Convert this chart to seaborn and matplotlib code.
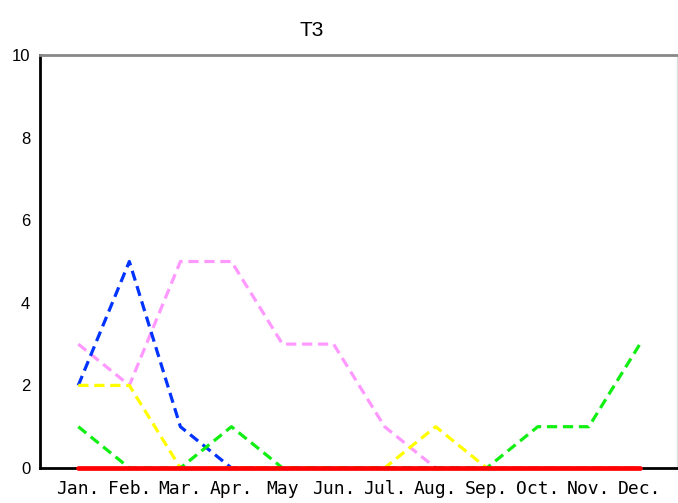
import matplotlib
matplotlib.use("Agg")
import matplotlib.pyplot as plt
import seaborn as sns

months = ['Jan.', 'Feb.', 'Mar.', 'Apr.', 'May', 'Jun.', 'Jul.', 'Aug.', 'Sep.', 'Oct.', 'Nov.', 'Dec.']
blue_vals = [2, 5, 1, 0, 0, 0, 0, 0, 0, 0, 0, 0]
pink_vals = [3, 2, 5, 5, 3, 3, 1, 0, 0, 0, 0, 0]
yellow_vals = [2, 2, 0, 0, 0, 0, 0, 1, 0, 0, 0, 0]
green_vals = [1, 0, 0, 1, 0, 0, 0, 0, 0, 1, 1, 3]
red_vals = [0, 0, 0, 0, 0, 0, 0, 0, 0, 0, 0, 0]

sns.set_style("white")

fig = plt.figure(figsize=(6.78, 5.03), dpi=100)
ax = fig.add_axes([0.059, 0.0696, 0.939, 0.821])

x = list(range(len(months)))
series = [
    (pink_vals, '#ff99ff'),
    (blue_vals, '#0033ff'),
    (yellow_vals, '#ffff00'),
    (green_vals, '#11ee11'),
]
for vals, col in series:
    sns.lineplot(x=x, y=vals, ax=ax, color=col, linewidth=2.3,
                 linestyle=(0, (3.2, 1.8)), clip_on=False)
sns.lineplot(x=x, y=red_vals, ax=ax, color='#ff0000', linewidth=3.4, clip_on=False, zorder=3)

ax.set_xlim(-0.75, 11.72)
ax.set_ylim(0, 10)
ax.set_yticks([0, 2, 4, 6, 8, 10])
ax.set_xticks(x)
ax.set_xticklabels(months, family='DejaVu Sans Mono', fontsize=13, color='black')
for lab in ax.get_yticklabels():
    lab.set_family('Liberation Sans')
    lab.set_fontsize(12)
    lab.set_color('black')
ax.tick_params(axis='y', direction='in', length=4, width=1.5, pad=7, colors='black')
ax.tick_params(axis='x', direction='in', length=3, width=1.5, pad=9, colors='black')

for side in ['left', 'bottom']:
    ax.spines[side].set_color('black')
    ax.spines[side].set_linewidth(2)
ax.spines['top'].set_color('#888888')
ax.spines['top'].set_linewidth(2)
ax.spines['right'].set_color('#dddddd')
ax.spines['right'].set_linewidth(1)

fig.text(0.459, 0.94, 'T3', ha='center', va='center', family='Liberation Sans', fontsize=15, color='black')

fig.savefig('out.png', dpi=100)
